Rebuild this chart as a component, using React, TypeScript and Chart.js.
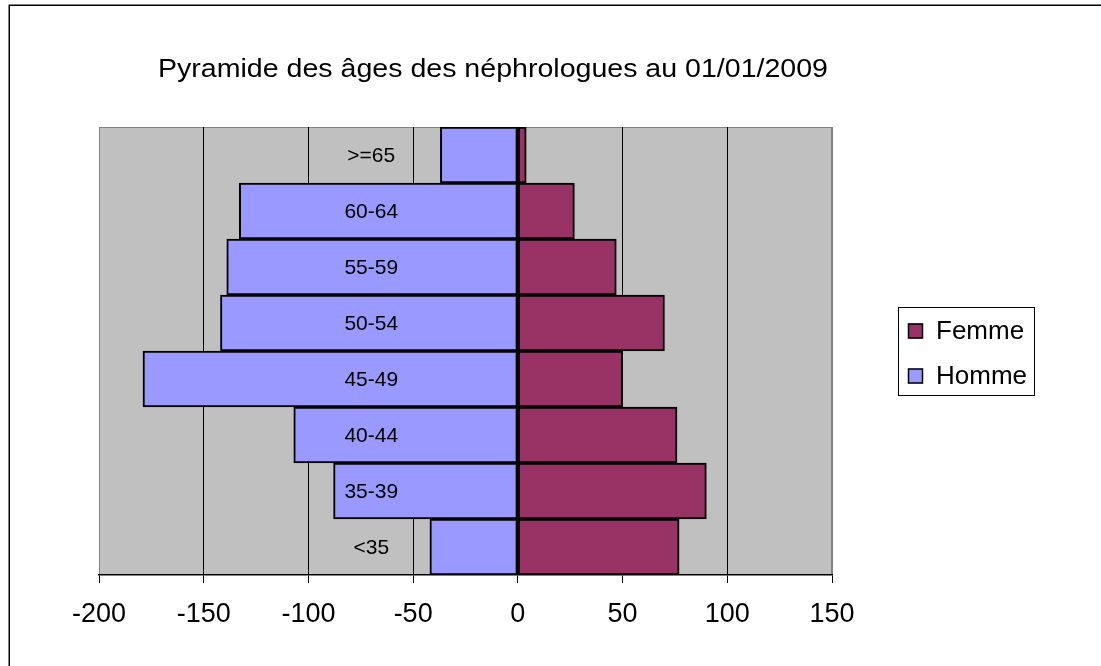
import React, { useEffect, useRef } from "react";
import { Chart, registerables } from "chart.js";

Chart.register(...registerables);

const TITLE = "Pyramide des âges des néphrologues au 01/01/2009";
const AGE_GROUPS = [">=65", "60-64", "55-59", "50-54", "45-49", "40-44", "35-39", "<35"];
const HOMME = [-37, -133, -139, -142, -179, -107, -88, -42];
const FEMME = [4, 27, 47, 70, 50, 76, 90, 77];
const SERIES_NAMES = ["Femme", "Homme"];
const X_MIN = -200;
const X_MAX = 150;
const X_STEP = 50;

const FONT = "'Liberation Sans', Arial, sans-serif";

const decorPlugin = {
  id: "decor",
  beforeDraw(chart: any) {
    const { ctx, chartArea } = chart;
    ctx.save();
    // outer frame
    ctx.strokeStyle = "#000";
    ctx.lineWidth = 1.5;
    ctx.beginPath();
    ctx.moveTo(9.25, 700);
    ctx.lineTo(9.25, 5.25);
    ctx.lineTo(1200, 5.25);
    ctx.stroke();
    // plot area
    ctx.fillStyle = "#C0C0C0";
    ctx.fillRect(chartArea.left, chartArea.top, chartArea.right - chartArea.left, chartArea.bottom - chartArea.top);
    ctx.strokeStyle = "#808080";
    ctx.lineWidth = 1;
    ctx.strokeRect(chartArea.left + 0.5, chartArea.top + 0.5, chartArea.right - chartArea.left - 1, chartArea.bottom - chartArea.top - 1);
    // title (stretched horizontally to match reference width)
    ctx.fillStyle = "#000";
    ctx.font = `26px ${FONT}`;
    ctx.textAlign = "left";
    ctx.textBaseline = "alphabetic";
    const w = ctx.measureText(TITLE).width;
    const targetW = 670;
    ctx.translate(158, 77);
    ctx.scale(targetW / w, 1);
    ctx.fillText(TITLE, 0, 0);
    ctx.restore();
  },
  afterDatasetsDraw(chart: any) {
    const { ctx } = chart;
    const xs = chart.scales.x;
    const ys = chart.scales.y;
    ctx.save();
    ctx.fillStyle = "#000";
    ctx.font = `21px ${FONT}`;
    ctx.textAlign = "center";
    ctx.textBaseline = "middle";
    const lx = xs.getPixelForValue(-70);
    (chart.data.labels as string[]).forEach((lab, i) => {
      ctx.fillText(lab, lx, ys.getPixelForValue(i) + 1);
    });
    // legend
    const bx = 898.5, by = 307.5, bw = 136, bh = 88;
    ctx.fillStyle = "#fff";
    ctx.fillRect(bx, by, bw, bh);
    ctx.strokeStyle = "#000";
    ctx.lineWidth = 1;
    ctx.strokeRect(bx, by, bw, bh);
    const order = [1, 0]; // Femme, Homme
    const rowsY = [331, 376];
    ctx.font = `26px ${FONT}`;
    ctx.textAlign = "left";
    ctx.textBaseline = "middle";
    order.forEach((di, k) => {
      const ds = chart.data.datasets[di];
      const cy = rowsY[k];
      ctx.fillStyle = ds.backgroundColor;
      ctx.fillRect(908, cy - 7.5, 15, 15);
      ctx.strokeStyle = "#000";
      ctx.lineWidth = 1.5;
      ctx.strokeRect(908.5, cy - 7, 14, 14);
      ctx.fillStyle = "#000";
      ctx.fillText(ds.label, 936, cy + 1);
    });
    ctx.restore();
  },
};

export default function App() {
  const ref = useRef<HTMLCanvasElement>(null);
  useEffect(() => {
    document.body.style.margin = "0";
    const chart = new Chart(ref.current!, {
      type: "bar",
      data: {
        labels: AGE_GROUPS,
        datasets: [
          {
            label: SERIES_NAMES[1],
            data: HOMME,
            backgroundColor: "#9999FF",
            borderColor: "#000",
            borderWidth: 2,
            borderSkipped: false,
            barPercentage: 1,
            categoryPercentage: 1,
          },
          {
            label: SERIES_NAMES[0],
            data: FEMME,
            backgroundColor: "#993366",
            borderColor: "#000",
            borderWidth: 2,
            borderSkipped: false,
            barPercentage: 1,
            categoryPercentage: 1,
          },
        ],
      },
      options: {
        indexAxis: "y",
        responsive: false,
        animation: false,
        layout: { padding: { left: 99, right: 269, top: 127, bottom: 31 } },
        plugins: { legend: { display: false }, title: { display: false }, tooltip: { enabled: false } },
        scales: {
          x: {
            stacked: true,
            min: X_MIN,
            max: X_MAX,
            afterFit: (s: any) => {
              s.height = 60;
            },
            ticks: {
              stepSize: X_STEP,
              color: "#000",
              font: { family: FONT, size: 27 },
              padding: 15,
              maxRotation: 0,
            },
            grid: {
              color: (c: any) => (c.tick && (c.tick.value === X_MIN || c.tick.value === X_MAX) ? "#808080" : "#000"),
              lineWidth: 1,
              tickLength: 8,
              tickColor: "#000",
            },
            border: { display: true, color: "#000", width: 1.5 },
          },
          y: {
            stacked: true,
            display: false,
          },
        },
      },
      plugins: [decorPlugin],
    });
    return () => chart.destroy();
  }, []);
  return <canvas ref={ref} width={1101} height={666} style={{ display: "block" }} />;
}
